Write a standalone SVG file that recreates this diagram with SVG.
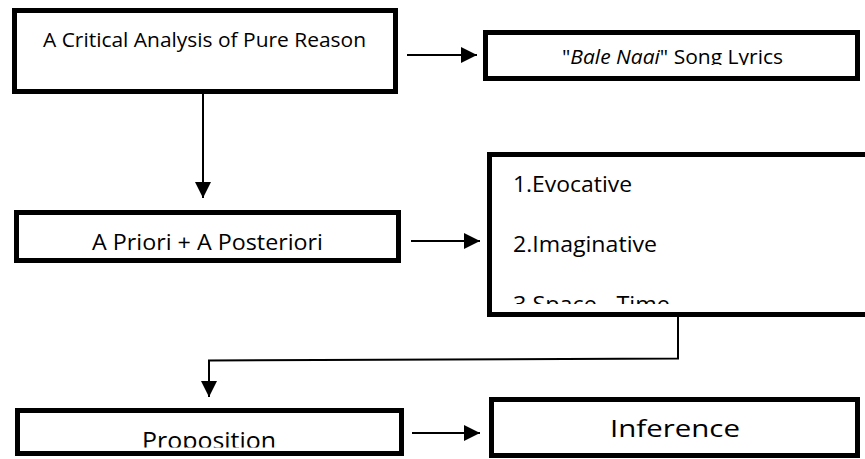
<svg xmlns="http://www.w3.org/2000/svg" width="865" height="459" viewBox="0 0 865 459">
<style>
.box{fill:#fff;stroke:#000;stroke-width:5}
.t{font-family:"Open Sans","Noto Sans","Liberation Sans",sans-serif;fill:#000}
.c{fill:none;stroke:#000;stroke-width:2}
</style>
<defs>
<marker id="ah" markerUnits="userSpaceOnUse" markerWidth="16" markerHeight="16" refX="16" refY="8" orient="auto" viewBox="0 0 16 16">
<path d="M0,0 L16,8 L0,16 Z" fill="#000"/>
</marker>
<clipPath id="c2"><rect x="488" y="35" width="367" height="30"/></clipPath>
<clipPath id="c4"><rect x="492" y="157" width="373" height="147"/></clipPath>
<clipPath id="c5"><rect x="20" y="413" width="379" height="34.5"/></clipPath>
</defs>
<g id="node-critical">
<rect class="box" x="14.5" y="10.5" width="381" height="81"/>
<text class="t" x="43" y="47" font-size="20" textLength="323" lengthAdjust="spacingAndGlyphs">A Critical Analysis of Pure Reason</text>
</g>
<g id="node-lyrics">
<rect class="box" x="485.5" y="32.5" width="372" height="46"/>
<text class="t" x="562" y="64" font-size="20" textLength="221" lengthAdjust="spacingAndGlyphs" clip-path="url(#c2)">"<tspan font-style="italic">Bale Naai</tspan>" Song Lyrics</text>
</g>
<g id="node-apriori">
<rect class="box" x="16.5" y="212.5" width="382" height="48"/>
<text class="t" x="92" y="250" font-size="21" textLength="231" lengthAdjust="spacingAndGlyphs">A Priori + A Posteriori</text>
</g>
<g id="node-list">
<rect class="box" x="489.5" y="154.5" width="400" height="160"/>
<g clip-path="url(#c4)">
<text class="t" x="513" y="192" font-size="21" textLength="119" lengthAdjust="spacingAndGlyphs">1.Evocative</text>
<text class="t" x="513" y="252" font-size="21" textLength="144" lengthAdjust="spacingAndGlyphs">2.Imaginative</text>
<text class="t" x="513" y="312" font-size="21" textLength="157" lengthAdjust="spacingAndGlyphs">3.Space - Time</text>
</g>
</g>
<g id="node-proposition">
<rect class="box" x="17.5" y="410.5" width="384" height="43"/>
<text class="t" x="142" y="449" font-size="23" textLength="134" lengthAdjust="spacingAndGlyphs" clip-path="url(#c5)">Proposition</text>
</g>
<g id="node-inference">
<rect class="box" x="491.5" y="399.5" width="366" height="56"/>
<text class="t" x="610" y="437" font-size="23" textLength="130" lengthAdjust="spacingAndGlyphs">Inference</text>
</g>
<g id="connectors">
<line class="c" x1="407" y1="55" x2="477" y2="55" marker-end="url(#ah)"/>
<line class="c" x1="203" y1="94" x2="203" y2="198" marker-end="url(#ah)"/>
<line class="c" x1="411" y1="241" x2="480" y2="241" marker-end="url(#ah)"/>
<polyline class="c" stroke-width="1.5" points="678,317 678,358.5 209,360.5 209,397" marker-end="url(#ah)"/>
<line class="c" x1="412" y1="433" x2="480" y2="433" marker-end="url(#ah)"/>
</g>
</svg>
